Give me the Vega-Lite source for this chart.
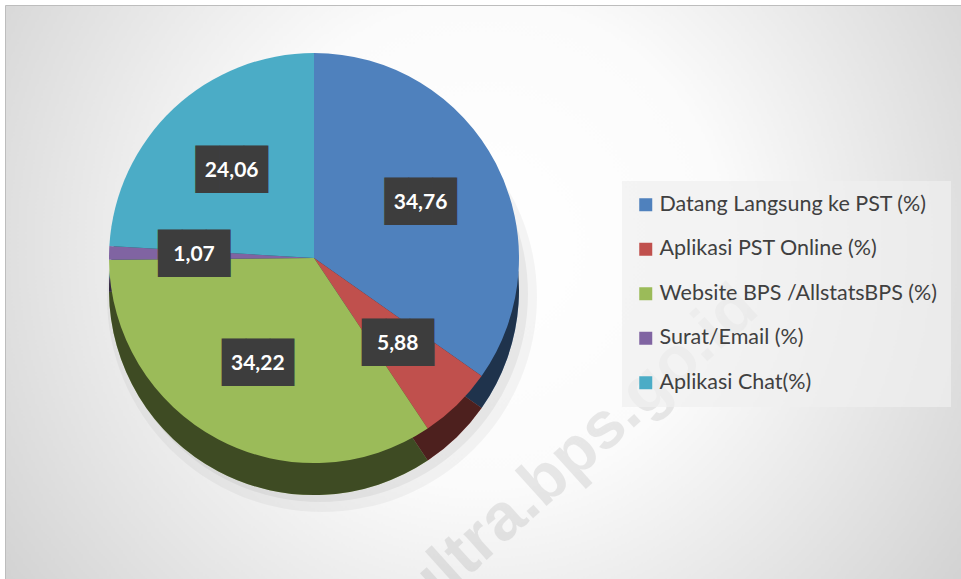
{
  "$schema": "https://vega.github.io/schema/vega-lite/v6.json",
  "width": 956,
  "height": 574,
  "autosize": {"type": "none"},
  "padding": {"left": 5, "top": 5, "right": 0, "bottom": 0},
  "background": "#ffffff",
  "view": {
    "stroke": "#bdbdbd",
    "strokeWidth": 1,
    "fill": {
      "gradient": "radial",
      "x1": 0.5, "y1": 0.45, "r1": 0,
      "x2": 0.5, "y2": 0.45, "r2": 0.72,
      "stops": [
        {"offset": 0, "color": "#ffffff"},
        {"offset": 0.35, "color": "#fbfbfb"},
        {"offset": 1, "color": "#c6c6c6"}
      ]
    }
  },
  "data": {
    "values": [
      {"kategori": "Datang Langsung ke PST (%)", "nilai": 34.76, "label": "34,76", "urutan": 1},
      {"kategori": "Aplikasi PST Online (%)", "nilai": 5.88, "label": "5,88", "urutan": 2},
      {"kategori": "\u00a0Website BPS /AllstatsBPS (%)", "nilai": 34.22, "label": "34,22", "urutan": 3},
      {"kategori": "Surat/Email (%)", "nilai": 1.07, "label": "1,07", "urutan": 4},
      {"kategori": "Aplikasi Chat(%)", "nilai": 24.06, "label": "24,06", "urutan": 5}
    ]
  },
  "layer": [
    {
      "data": {"values": [{"bayangan": 1}]},
      "mark": {"type": "arc", "theta": 0, "theta2": 6.2832, "outerRadius": 215, "fill": "#000000", "opacity": 0.04, "xOffset": -161, "yOffset": 5},
      "encoding": {}
    },
    {
      "data": {"values": [{"bayangan": 1}]},
      "mark": {"type": "arc", "theta": 0, "theta2": 6.2832, "outerRadius": 208, "fill": "#000000", "opacity": 0.05, "xOffset": -163, "yOffset": 2},
      "encoding": {}
    },
    {
      "data": {"values": [{"tanda": "ultra.bps.go.id"}]},
      "mark": {"type": "text", "font": "Liberation Sans", "fontSize": 66, "fontWeight": "bold", "fill": "#000000", "opacity": 0.08, "angle": -42, "align": "center", "baseline": "middle", "xOffset": 96, "yOffset": 158},
      "encoding": {"text": {"field": "tanda", "type": "nominal"}}
    },
    {
      "mark": {"type": "arc", "outerRadius": 205, "xOffset": -169, "yOffset": -2},
      "encoding": {
        "theta": {"field": "nilai", "type": "quantitative", "stack": true},
        "order": {"field": "urutan", "type": "quantitative"},
        "color": {"field": "kategori", "type": "nominal"}
      }
    },
    {
      "mark": {"type": "arc", "outerRadius": 205, "xOffset": -169, "yOffset": -2, "fill": "#000000", "opacity": 0.6},
      "encoding": {
        "theta": {"field": "nilai", "type": "quantitative", "stack": true},
        "order": {"field": "urutan", "type": "quantitative"}
      }
    },
    {
      "mark": {"type": "arc", "outerRadius": 205, "xOffset": -169, "yOffset": -34},
      "encoding": {
        "theta": {"field": "nilai", "type": "quantitative", "stack": true},
        "order": {"field": "urutan", "type": "quantitative"},
        "color": {
          "field": "kategori",
          "type": "nominal",
          "scale": {
            "domain": ["Datang Langsung ke PST (%)", "Aplikasi PST Online (%)", "\u00a0Website BPS /AllstatsBPS (%)", "Surat/Email (%)", "Aplikasi Chat(%)"],
            "range": ["#4F81BD", "#C0504D", "#9BBB59", "#8064A2", "#4BACC6"]
          },
          "legend": {
            "title": null,
            "orient": "none",
            "legendX": 617,
            "legendY": 176,
            "fillColor": "rgba(240,240,240,0.7)",
            "padding": 13,
            "symbolType": "square",
            "symbolSize": 169,
            "symbolStrokeWidth": 0,
            "labelFont": "Lato",
            "labelFontSize": 21.5,
            "labelColor": "#404040",
            "labelOffset": 3,
            "labelLimit": 400,
            "rowPadding": 21.5
          }
        }
      }
    },
    {
      "mark": {"type": "text", "font": "DejaVu Sans Mono", "fontSize": 40, "fill": "#3d3d3d", "baseline": "middle", "align": "center", "xOffset": -169, "yOffset": -34, "text": "███"},
      "encoding": {
        "theta": {"field": "nilai", "type": "quantitative", "stack": true},
        "order": {"field": "urutan", "type": "quantitative"},
        "radius": {"value": 120}
      }
    },
    {
      "mark": {"type": "text", "font": "Lato", "fontSize": 21, "fontWeight": "bold", "fill": "#ffffff", "baseline": "middle", "align": "center", "xOffset": -169, "yOffset": -34},
      "encoding": {
        "theta": {"field": "nilai", "type": "quantitative", "stack": true},
        "order": {"field": "urutan", "type": "quantitative"},
        "radius": {"value": 120},
        "text": {"field": "label", "type": "nominal"}
      }
    }
  ]
}
